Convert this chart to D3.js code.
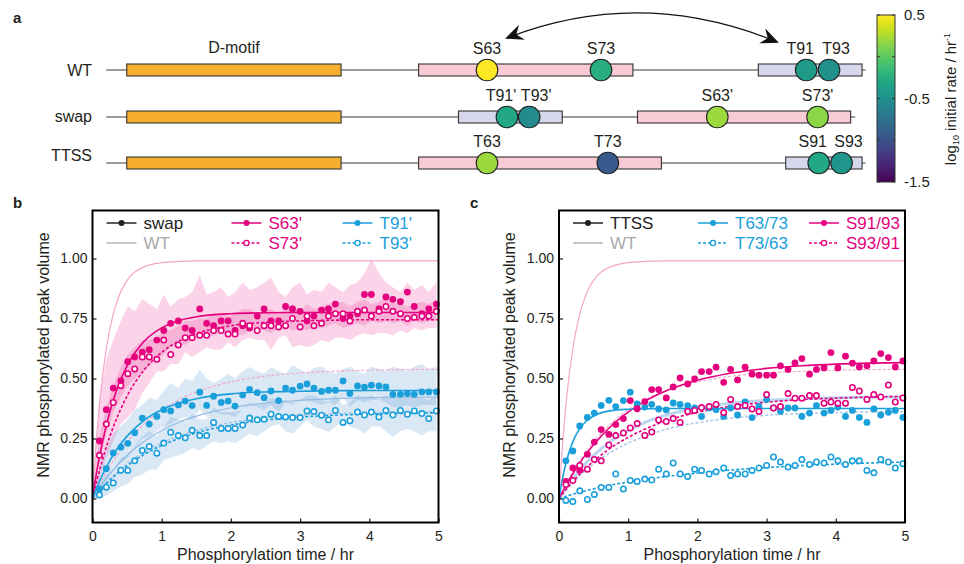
<!DOCTYPE html>
<html><head><meta charset="utf-8">
<script src="https://cdn.jsdelivr.net/npm/d3@7"></script>
<style>body{margin:0;background:#fff}</style>
</head><body>
<script>
// ---------------- DATA ----------------
// panel a: constructs (sequence coordinates in residue units)
const constructNames = ["WT", "swap", "TTSS"];
const backboneSpans = [[29.6, 96.2], [29.6, 95.3], [29.6, 96.2]];
const dmotifSpan = [31.4, 50.2];
const pinkSpans = [[57.0, 75.8], [76.2, 94.9], [57.0, 78.3]];
const lavenderSpans = [[86.8, 95.9], [60.5, 69.6], [89.2, 95.9]];
const sitePositions = [[63, 73, 91, 93], [64.75, 66.7, 83.2, 92.0], [63, 73.6, 92.1, 94.1]];
const siteLabels = [["S63", "S73", "T91", "T93"], ["T91'", "T93'", "S63'", "S73'"], ["T63", "T73", "S91", "S93"]];
const siteRates = [[0.5, -0.25, -0.4, -0.5], [-0.3, -0.55, 0.2, 0.15], [0.2, -0.95, -0.3, -0.45]];
const colorbarTicks = [0.5, 0, -0.5, -1, -1.5];
const colorbarLabels = [0.5, -0.5, -1.5];

// panels b,c: measurement times (hr)
const times = [0.10,0.20,0.30,0.41,0.51,0.61,0.72,0.82,0.93,1.03,1.13,1.24,1.34,1.44,1.55,1.65,1.75,1.86,1.96,2.06,2.17,2.27,2.38,2.48,2.58,2.69,2.79,2.89,3.00,3.10,3.20,3.31,3.41,3.51,3.62,3.72,3.83,3.93,4.03,4.14,4.24,4.34,4.45,4.55,4.65,4.76,4.86,4.97];
const xTicks = [0, 1, 2, 3, 4, 5];
const yTicks = [0, 0.25, 0.5, 0.75, 1.0];

// panel b (swap)
const swapS63 = [0.24,0.37,0.46,0.49,0.57,0.59,0.61,0.62,0.66,0.70,0.73,0.74,0.71,0.70,0.79,0.73,0.72,0.74,0.74,0.70,0.72,0.71,0.76,0.79,0.74,0.74,0.80,0.79,0.78,0.74,0.76,0.785,0.79,0.81,0.75,0.76,0.77,0.85,0.85,0.79,0.84,0.83,0.82,0.86,0.80,0.77,0.79,0.81];
const swapS73 = [0.18,0.31,0.40,0.47,0.52,0.54,0.59,0.59,0.58,0.66,0.60,0.64,0.67,0.67,0.68,0.68,0.70,0.70,0.685,0.685,0.73,0.72,0.70,0.72,0.72,0.715,0.72,0.75,0.715,0.76,0.72,0.73,0.76,0.77,0.77,0.74,0.78,0.785,0.76,0.78,0.80,0.78,0.77,0.75,0.755,0.76,0.76,0.78];
const swapT91 = [0.04,0.124,0.19,0.214,0.23,0.274,0.335,0.31,0.342,0.37,0.365,0.39,0.406,0.387,0.443,0.388,0.426,0.40,0.406,0.385,0.431,0.455,0.441,0.42,0.448,0.408,0.46,0.451,0.468,0.477,0.46,0.446,0.451,0.451,0.49,0.437,0.469,0.464,0.472,0.469,0.465,0.434,0.434,0.437,0.434,0.444,0.444,0.444];
const swapT93 = [0.015,0.047,0.065,0.118,0.117,0.157,0.20,0.217,0.189,0.231,0.276,0.262,0.253,0.284,0.262,0.262,0.317,0.292,0.292,0.292,0.306,0.335,0.328,0.33,0.351,0.342,0.34,0.337,0.337,0.365,0.362,0.347,0.328,0.367,0.317,0.324,0.36,0.348,0.36,0.34,0.367,0.348,0.367,0.351,0.365,0.354,0.333,0.365];
// shaded ranges (panel b)
const s63Hi = [0.42,0.58,0.66,0.74,0.80,0.78,0.83,0.81,0.79,0.85,0.80,0.83,0.84,0.86,0.93,0.85,0.86,0.88,0.84,0.86,0.90,0.87,0.88,0.90,0.92,0.86,0.84,0.88,0.90,0.85,0.87,0.86,0.90,0.88,0.86,0.89,0.90,0.94,1.00,0.94,0.90,0.88,0.86,0.90,0.87,0.89,0.86,0.90];
const s63Lo = [0.16,0.27,0.36,0.42,0.47,0.50,0.53,0.55,0.58,0.60,0.63,0.64,0.64,0.66,0.68,0.67,0.68,0.69,0.68,0.69,0.68,0.70,0.71,0.70,0.69,0.71,0.72,0.70,0.71,0.70,0.72,0.71,0.72,0.73,0.71,0.72,0.73,0.72,0.74,0.73,0.74,0.73,0.74,0.72,0.74,0.73,0.74,0.74];
const s73Hi = [0.26,0.38,0.47,0.55,0.60,0.63,0.66,0.66,0.67,0.70,0.70,0.72,0.74,0.74,0.75,0.75,0.77,0.77,0.76,0.77,0.79,0.79,0.77,0.78,0.79,0.77,0.79,0.81,0.78,0.81,0.79,0.80,0.81,0.82,0.82,0.80,0.82,0.83,0.81,0.82,0.84,0.82,0.81,0.80,0.81,0.82,0.81,0.83];
const s73Lo = [0.08,0.17,0.24,0.31,0.34,0.37,0.44,0.48,0.53,0.53,0.56,0.56,0.61,0.59,0.61,0.63,0.62,0.62,0.65,0.63,0.66,0.67,0.66,0.66,0.62,0.67,0.68,0.63,0.64,0.63,0.64,0.66,0.65,0.67,0.67,0.66,0.68,0.69,0.68,0.69,0.69,0.68,0.70,0.69,0.71,0.70,0.71,0.71];
const t91Hi = [0.12,0.20,0.27,0.30,0.33,0.37,0.39,0.42,0.41,0.45,0.48,0.46,0.50,0.49,0.535,0.50,0.48,0.50,0.52,0.50,0.53,0.548,0.53,0.52,0.548,0.53,0.52,0.555,0.54,0.52,0.545,0.55,0.53,0.52,0.54,0.55,0.53,0.52,0.55,0.54,0.53,0.55,0.54,0.53,0.55,0.56,0.54,0.55];
const t91Lo = [0.01,0.07,0.12,0.15,0.17,0.21,0.25,0.26,0.28,0.30,0.31,0.33,0.34,0.33,0.37,0.34,0.36,0.35,0.35,0.34,0.37,0.39,0.38,0.37,0.39,0.36,0.40,0.39,0.41,0.41,0.40,0.39,0.40,0.39,0.42,0.38,0.41,0.40,0.41,0.41,0.40,0.38,0.38,0.39,0.38,0.39,0.39,0.39];
const t93Hi = [0.06,0.10,0.12,0.17,0.18,0.22,0.26,0.28,0.26,0.30,0.34,0.33,0.32,0.35,0.33,0.33,0.38,0.36,0.36,0.36,0.37,0.40,0.39,0.40,0.42,0.41,0.41,0.40,0.41,0.43,0.43,0.41,0.40,0.43,0.39,0.40,0.43,0.42,0.43,0.41,0.43,0.42,0.43,0.42,0.43,0.42,0.41,0.43];
const t93Lo = [0.00,0.01,0.03,0.05,0.06,0.09,0.10,0.12,0.12,0.16,0.17,0.18,0.19,0.21,0.20,0.22,0.24,0.23,0.24,0.23,0.25,0.27,0.26,0.28,0.30,0.31,0.28,0.27,0.30,0.326,0.30,0.29,0.277,0.30,0.32,0.30,0.29,0.27,0.30,0.30,0.28,0.256,0.28,0.29,0.28,0.263,0.28,0.28];

// panel c (TTSS)
const ttssT63 = [0.157,0.198,0.302,0.338,0.356,0.388,0.409,0.383,0.408,0.443,0.394,0.381,0.392,0.373,0.369,0.398,0.392,0.387,0.377,0.342,0.377,0.37,0.342,0.377,0.348,0.402,0.337,0.384,0.412,0.377,0.363,0.377,0.377,0.342,0.356,0.387,0.356,0.367,0.381,0.342,0.367,0.338,0.317,0.373,0.348,0.359,0.367,0.338];
const ttssT73 = [-0.008,-0.013,0.032,-0.004,0.017,0.046,0.046,0.102,0.04,0.075,0.071,0.081,0.077,0.122,0.102,0.148,0.102,0.092,0.122,0.117,0.102,0.111,0.127,0.096,0.102,0.102,0.117,0.127,0.138,0.173,0.152,0.131,0.138,0.163,0.142,0.152,0.148,0.173,0.157,0.142,0.157,0.157,0.117,0.107,0.163,0.152,0.127,0.145];
const ttssS91 = [0.071,0.127,0.117,0.184,0.235,0.287,0.267,0.308,0.333,0.408,0.374,0.404,0.454,0.454,0.419,0.465,0.502,0.477,0.498,0.529,0.529,0.547,0.484,0.538,0.494,0.547,0.518,0.514,0.514,0.514,0.553,0.538,0.565,0.583,0.518,0.538,0.544,0.608,0.544,0.593,0.564,0.548,0.553,0.573,0.604,0.587,0.548,0.573];
const ttssS93 = [0.058,0.075,0.138,0.122,0.163,0.157,0.223,0.262,0.273,0.294,0.312,0.263,0.277,0.327,0.321,0.333,0.317,0.363,0.367,0.379,0.383,0.392,0.358,0.413,0.383,0.388,0.373,0.363,0.433,0.377,0.383,0.437,0.418,0.418,0.429,0.429,0.397,0.402,0.397,0.397,0.463,0.448,0.413,0.433,0.423,0.473,0.402,0.419];

// fitted curves, sampled from the figure
const fitTimes = [0,0.05,0.1,0.2,0.3,0.4,0.5,0.75,1,1.25,1.5,2,2.5,3,3.5,4,4.5,5];
const wtS63 = [0,0.219,0.39,0.626,0.769,0.856,0.909,0.966,0.983,0.988,0.99,0.99,0.99,0.99,0.99,0.99,0.99,0.99];
const wtS73 = [0,0.03,0.059,0.111,0.158,0.199,0.236,0.312,0.369,0.412,0.444,0.486,0.51,0.523,0.53,0.535,0.537,0.538];
const wtT91 = [0,0.023,0.044,0.084,0.119,0.151,0.18,0.239,0.283,0.318,0.343,0.378,0.398,0.409,0.416,0.42,0.422,0.423];
const wtT93 = [0,0.018,0.035,0.066,0.095,0.12,0.144,0.193,0.231,0.26,0.284,0.316,0.335,0.347,0.354,0.358,0.361,0.362];
const fitS63 = [0,0.092,0.171,0.305,0.409,0.49,0.553,0.656,0.711,0.741,0.757,0.77,0.774,0.775,0.775,0.775,0.775,0.775];
const fitS73 = [0,0.061,0.116,0.215,0.298,0.367,0.427,0.537,0.609,0.656,0.687,0.72,0.734,0.74,0.743,0.745,0.745,0.745];
const fitT91 = [0,0.037,0.071,0.131,0.182,0.225,0.26,0.327,0.37,0.398,0.416,0.436,0.444,0.447,0.449,0.45,0.45,0.45];
const fitT93 = [0,0.017,0.033,0.062,0.089,0.114,0.136,0.184,0.221,0.25,0.274,0.306,0.327,0.339,0.347,0.352,0.355,0.357];
const fitT63 = [0,0.083,0.147,0.237,0.291,0.324,0.344,0.366,0.372,0.374,0.375,0.375,0.375,0.375,0.375,0.375,0.375,0.375];
const fitT73 = [0,0.005,0.009,0.018,0.026,0.033,0.04,0.056,0.069,0.08,0.09,0.106,0.119,0.129,0.137,0.143,0.148,0.152];
const fitS91 = [0,0.028,0.054,0.103,0.148,0.188,0.224,0.301,0.36,0.407,0.443,0.493,0.523,0.542,0.553,0.56,0.564,0.566];
const fitS93 = [0,0.019,0.037,0.071,0.102,0.13,0.156,0.211,0.255,0.29,0.319,0.359,0.385,0.401,0.412,0.418,0.423,0.425];

// ---------------- STYLE ----------------
const FONT = "'Liberation Sans', Arial, Helvetica, sans-serif";
const ink = "#231f20";
const magenta = "#e5007e", cyan = "#1a9fdb";
const wtPink = "#f4a6c9", wtBlue = "#93bbe4", wtBlueThick = "#bdd6ef";
const grey = "#a7a9ac";

const svg = d3.select("body").append("svg").attr("width", 964).attr("height", 564)
  .style("font-family", FONT).style("display", "block");
svg.append("rect").attr("width", 964).attr("height", 564).attr("fill", "#fff");

// panel letters
[["a", 13, 23], ["b", 13, 208], ["c", 470, 208]].forEach(([t, x, y]) =>
  svg.append("text").attr("x", x).attr("y", y).attr("font-size", 15).attr("font-weight", "bold").attr("fill", ink).text(t));

// ---------------- PANEL A ----------------
const seqX = d3.scaleLinear().domain([63, 93]).range([487, 829]);
const rowY = [70, 117, 163];
const rowLabelBaseline = [76, 122, 161];
const rateColor = d3.scaleSequential(d3.interpolateViridis).domain([-1.5, 0.5]);
const ga = svg.append("g");

ga.append("text").attr("x", (seqX(dmotifSpan[0]) + seqX(dmotifSpan[1])) / 2).attr("y", 53)
  .attr("text-anchor", "middle").attr("font-size", 16).attr("fill", ink).text("D-motif");

constructNames.forEach((name, i) => {
  const yy = rowY[i];
  ga.append("line").attr("x1", seqX(backboneSpans[i][0])).attr("x2", seqX(backboneSpans[i][1]))
    .attr("y1", yy).attr("y2", yy).attr("stroke", "#3a3a3a").attr("stroke-width", 1.2);
  const boxes = [[dmotifSpan, "#f5ae2f"], [pinkSpans[i], "#f8cad3"], [lavenderSpans[i], "#d6d7ea"]];
  boxes.forEach(([s, c]) => {
    ga.append("rect").attr("x", seqX(s[0])).attr("y", yy - 6).attr("width", seqX(s[1]) - seqX(s[0])).attr("height", 12)
      .attr("fill", c).attr("stroke", "#333").attr("stroke-width", 1.1);
  });
  sitePositions[i].forEach((p, j) => {
    ga.append("circle").attr("cx", seqX(p)).attr("cy", yy).attr("r", 10.8)
      .attr("fill", rateColor(siteRates[i][j])).attr("stroke", "#222").attr("stroke-width", 1.1);
    let shift = 0;
    const pos = sitePositions[i];
    if (j + 1 < pos.length && pos[j + 1] - p < 3) shift = -6;
    if (j > 0 && p - pos[j - 1] < 3) shift = 7;
    ga.append("text").attr("x", seqX(p) + shift).attr("y", yy - 16).attr("text-anchor", "middle")
      .attr("font-size", 16).attr("fill", ink).text(siteLabels[i][j]);
  });
  ga.append("text").attr("x", 92).attr("y", rowLabelBaseline[i]).attr("text-anchor", "end")
    .attr("font-size", 16).attr("fill", ink).text(name);
});

// curved double arrow
const defs = svg.append("defs");
defs.append("marker").attr("id", "ah").attr("viewBox", "-18 -9 18 18").attr("refX", -2).attr("refY", 0)
  .attr("markerUnits", "userSpaceOnUse").attr("markerWidth", 18).attr("markerHeight", 18)
  .attr("orient", "auto-start-reverse")
  .append("path").attr("d", "M0,0 L-18,-8 L-12,0 L-18,8 Z").attr("fill", "#111");
ga.append("path").attr("d", "M507,38 Q641,-14 777,42").attr("fill", "none").attr("stroke", "#111")
  .attr("stroke-width", 1.3).attr("marker-start", "url(#ah)").attr("marker-end", "url(#ah)");

// colorbar
const cb = {x: 877, w: 18, y0: 15, y1: 182};
const cbY = d3.scaleLinear().domain([-1.5, 0.5]).range([cb.y1, cb.y0]);
const grad = defs.append("linearGradient").attr("id", "vir").attr("x1", 0).attr("y1", 1).attr("x2", 0).attr("y2", 0);
d3.range(0, 1.0001, 0.05).forEach(t => grad.append("stop").attr("offset", t).attr("stop-color", d3.interpolateViridis(t)));
ga.append("rect").attr("x", cb.x).attr("y", cb.y0).attr("width", cb.w).attr("height", cb.y1 - cb.y0)
  .attr("fill", "url(#vir)").attr("stroke", "#333").attr("stroke-width", 1);
colorbarTicks.forEach(v => {
  ga.append("line").attr("x1", cb.x).attr("x2", cb.x + 3).attr("y1", cbY(v)).attr("y2", cbY(v)).attr("stroke", "#333");
  ga.append("line").attr("x1", cb.x + cb.w - 3).attr("x2", cb.x + cb.w).attr("y1", cbY(v)).attr("y2", cbY(v)).attr("stroke", "#333");
});
colorbarLabels.forEach(v => ga.append("text").attr("x", 904).attr("y", cbY(v)).attr("dy", "0.35em")
  .attr("font-size", 15).attr("fill", ink).text(String(v)));
const cbt = ga.append("text").attr("transform", "translate(956,99) rotate(-90)").attr("text-anchor", "middle")
  .attr("font-size", 15).attr("fill", ink);
cbt.append("tspan").text("log");
cbt.append("tspan").attr("font-size", 9).attr("dy", 3).text("10");
cbt.append("tspan").attr("dy", -3).text(" initial rate / hr");
cbt.append("tspan").attr("font-size", 9).attr("dy", -6).text("-1");

// ---------------- PANELS B, C ----------------
function drawPanel(cfg) {
  const W = 346;
  const x = d3.scaleLinear().domain([0, 5]).range([cfg.left, cfg.left + W]);
  const y = d3.scaleLinear().domain([-0.1, 1.2]).range([522.5, 210.5]);
  const g = svg.append("g");

  cfg.bands.forEach(b => {
    const d = [{t: 0, lo: 0, hi: 0}].concat(times.map((t, i) => ({t, lo: b.lo[i], hi: b.hi[i]})));
    g.append("path").datum(d)
      .attr("d", d3.area().x(p => x(p.t)).y0(p => y(p.lo)).y1(p => y(p.hi)))
      .attr("fill", b.color).attr("fill-opacity", b.op);
  });
  const line = d3.line().x(p => x(p[0])).y(p => y(p[1])).curve(d3.curveMonotoneX);
  cfg.curves.forEach(c => {
    g.append("path").datum(fitTimes.map((t, i) => [t, c.v[i]])).attr("d", line)
      .attr("fill", "none").attr("stroke", c.color).attr("stroke-width", c.w)
      .attr("stroke-dasharray", c.dash || null);
  });
  cfg.series.forEach(s => {
    g.append("g").selectAll("circle").data(times.map((t, i) => [t, s.v[i]])).join("circle")
      .attr("cx", p => x(p[0])).attr("cy", p => y(p[1]))
      .attr("r", s.open ? 2.7 : 3.4)
      .attr("fill", s.open ? "#fff" : s.color)
      .attr("stroke", s.open ? s.color : "none").attr("stroke-width", 1.6);
  });

  const ya = g.append("g").attr("transform", `translate(${cfg.left},0)`)
    .call(d3.axisLeft(y).tickValues(yTicks).tickFormat(d3.format(".2f")).tickSize(-4).tickPadding(5));
  const xa = g.append("g").attr("transform", `translate(0,522.5)`)
    .call(d3.axisBottom(x).tickValues(xTicks).tickFormat(d3.format("d")).tickSize(-4).tickPadding(9));
  [ya, xa].forEach(a => {
    a.select(".domain").remove();
    a.attr("font-size", 14).attr("font-family", FONT).attr("color", ink);
    a.selectAll("line").attr("stroke-width", 1.2);
  });

  g.append("rect").attr("x", cfg.left).attr("y", 210.5).attr("width", W).attr("height", 312)
    .attr("fill", "none").attr("stroke", "#000").attr("stroke-width", 2);

  g.append("text").attr("x", cfg.left + W / 2).attr("y", 560).attr("text-anchor", "middle")
    .attr("font-size", 16).attr("fill", ink).text("Phosphorylation time / hr");
  g.append("text").attr("transform", `translate(${cfg.left - 44},355) rotate(-90)`).attr("text-anchor", "middle")
    .attr("font-size", 16).attr("fill", ink).text("NMR phosphorylated peak volume");

  const cols = [14, 139, 250];
  cfg.legend.forEach(L => {
    const lx = cfg.left + cols[L.col], ly = L.row ? 243 : 223;
    g.append("line").attr("x1", lx).attr("x2", lx + 30).attr("y1", ly).attr("y2", ly)
      .attr("stroke", L.color).attr("stroke-width", L.marker ? 1.5 : 1.3).attr("stroke-dasharray", L.dash ? "3,2" : null);
    if (L.marker === "filled") g.append("circle").attr("cx", lx + 15).attr("cy", ly).attr("r", 3).attr("fill", L.color);
    if (L.marker === "open") g.append("circle").attr("cx", lx + 15).attr("cy", ly).attr("r", 2.6)
      .attr("fill", "#fff").attr("stroke", L.color).attr("stroke-width", 1.4);
    g.append("text").attr("x", lx + 37).attr("y", ly).attr("dy", "0.36em").attr("font-size", 17)
      .attr("fill", L.text || L.color).text(L.label);
  });
}

const pinkBand = magenta, blueBand = "#3b84c8";
drawPanel({
  left: 92.5,
  bands: [
    {lo: s63Lo, hi: s63Hi, color: pinkBand, op: 0.17},
    {lo: s73Lo, hi: s73Hi, color: pinkBand, op: 0.17},
    {lo: t91Lo, hi: t91Hi, color: blueBand, op: 0.19},
    {lo: t93Lo, hi: t93Hi, color: blueBand, op: 0.19}
  ],
  curves: [
    {v: wtS63, color: wtPink, w: 1.2},
    {v: wtS73, color: wtPink, w: 1.2, dash: "3,2"},
    {v: wtT91, color: wtBlue, w: 1.2},
    {v: wtT93, color: wtBlue, w: 1.2, dash: "3,2"},
    {v: fitS63, color: magenta, w: 1.6},
    {v: fitS73, color: magenta, w: 1.6, dash: "3,2"},
    {v: fitT91, color: cyan, w: 1.6},
    {v: fitT93, color: cyan, w: 1.6, dash: "3,2"}
  ],
  series: [
    {v: swapS63, color: magenta}, {v: swapT91, color: cyan},
    {v: swapS73, color: magenta, open: true}, {v: swapT93, color: cyan, open: true}
  ],
  legend: [
    {label: "swap", color: "#222", marker: "filled", col: 0, row: 0},
    {label: "WT", color: grey, col: 0, row: 1},
    {label: "S63'", color: magenta, marker: "filled", col: 1, row: 0},
    {label: "S73'", color: magenta, marker: "open", dash: true, col: 1, row: 1},
    {label: "T91'", color: cyan, marker: "filled", col: 2, row: 0},
    {label: "T93'", color: cyan, marker: "open", dash: true, col: 2, row: 1}
  ]
});

drawPanel({
  left: 559,
  bands: [],
  curves: [
    {v: wtS63, color: wtPink, w: 1.2},
    {v: wtS73, color: wtPink, w: 1.2, dash: "3,2"},
    {v: wtT91, color: wtBlueThick, w: 3},
    {v: wtT93, color: "#a9c9ea", w: 1.5, dash: "3,2"},
    {v: fitS91, color: magenta, w: 1.6},
    {v: fitS93, color: magenta, w: 1.6, dash: "3,2"},
    {v: fitT63, color: cyan, w: 1.6},
    {v: fitT73, color: cyan, w: 1.6, dash: "3,2"}
  ],
  series: [
    {v: ttssT63, color: cyan}, {v: ttssS91, color: magenta},
    {v: ttssT73, color: cyan, open: true}, {v: ttssS93, color: magenta, open: true}
  ],
  legend: [
    {label: "TTSS", color: "#222", marker: "filled", col: 0, row: 0},
    {label: "WT", color: grey, col: 0, row: 1},
    {label: "T63/73", color: cyan, marker: "filled", col: 1, row: 0},
    {label: "T73/63", color: cyan, marker: "open", dash: true, col: 1, row: 1},
    {label: "S91/93", color: magenta, marker: "filled", col: 2, row: 0},
    {label: "S93/91", color: magenta, marker: "open", dash: true, col: 2, row: 1}
  ]
});
</script>
</body></html>
